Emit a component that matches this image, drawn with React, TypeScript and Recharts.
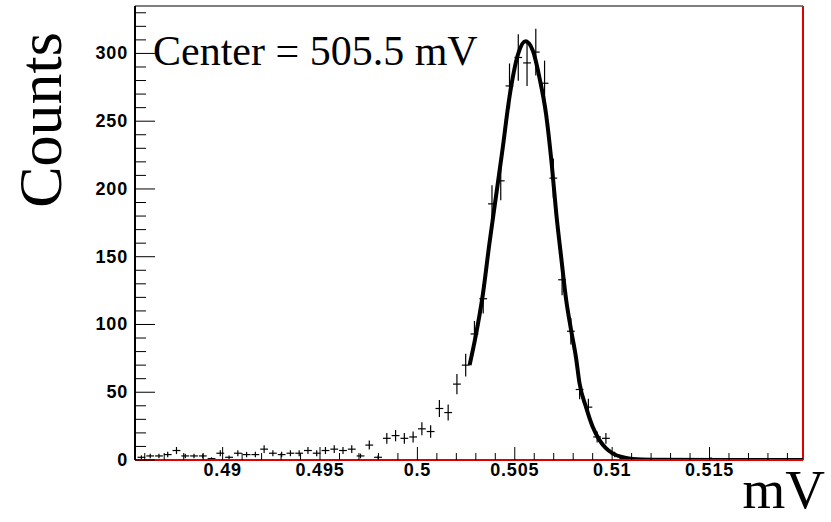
import { ComposedChart, Scatter, Line, XAxis, YAxis, ErrorBar, ReferenceLine } from "recharts";

// histogram: 76 bins, 0.45 µV wide
const BIN_FIRST = 0.48583;
const BIN_WIDTH = 0.00045;
const HALF_BAR = 0.0002;

const COUNTS = [
  2, 3, 3, 4, 7, 3, 3, 3, 1, 5,
  2, 5, 4, 4, 8, 5, 4, 5, 5, 7,
  5, 7, 8, 7, 8, 3, 11, 2, 16, 18,
  16, 17, 23, 21, 38, 35, 56, 70, 93, 119,
  189, 206, 276, 297, 293, 301, 278, 208, 133, 95,
  52, 39, 17, 16, 4, 1, 0, 0, 0, 0,
  0, 0, 0, 0, 0, 1, 0, 0, 0, 0,
  0, 0, 0, 0, 0, 0,
];

// vertical error half-heights
const ERRORS = [
  1.4, 1.7, 1.7, 2, 2.6, 1.7, 1.7, 1.7, 1, 2.2,
  1.4, 2.2, 2, 2, 2.8, 2.2, 2, 2.2, 2.2, 2.6,
  2.2, 2.6, 2.8, 2.6, 2.8, 1.7, 3.3, 1.4, 4, 4.2,
  4, 4.1, 4.8, 4.6, 6.2, 5.9, 7.5, 8.4, 9.6, 10.9,
  13.7, 14.4, 16.6, 17.2, 17.1, 17.3, 16.7, 14.4, 11.5, 9.7,
  7.2, 6.2, 4.1, 4, 2, 1, 0, 0, 0, 0,
  0, 0, 0, 0, 0, 1, 0, 0, 0, 0,
  0, 0, 0, 0, 0, 0,
];

// fit curve
const FIT_X = [
  0.50268, 0.503, 0.50336, 0.5037, 0.50405, 0.50436, 0.50473, 0.50516, 0.50555,
  0.50593, 0.50627, 0.50661, 0.5069, 0.50713, 0.50738, 0.50764, 0.50789, 0.50815,
  0.50832, 0.50866, 0.509, 0.50935, 0.50969, 0.51003, 0.51054, 0.51105, 0.512, 0.5198,
];
const FIT_Y = [
  70, 92, 122, 160, 196, 228, 268, 299, 309,
  302, 282, 255, 218, 182, 150, 118, 96, 75,
  57, 39, 24.5, 14.7, 8.6, 4.9, 2, 0.7, 0.1, 0,
];

const X_DOMAIN: [number, number] = [0.4855, 0.5198];
const Y_DOMAIN: [number, number] = [0, 335];

const X_TICKS = [
  0.486, 0.487, 0.488, 0.489, 0.49, 0.491, 0.492, 0.493, 0.494, 0.495,
  0.496, 0.497, 0.498, 0.499, 0.5, 0.501, 0.502, 0.503, 0.504, 0.505,
  0.506, 0.507, 0.508, 0.509, 0.51, 0.511, 0.512, 0.513, 0.514, 0.515,
  0.516, 0.517, 0.518, 0.519,
];
const X_MAJOR = [0.49, 0.495, 0.5, 0.505, 0.51, 0.515];
const X_MAJOR_LABELS = ["0.49", "0.495", "0.5", "0.505", "0.51", "0.515"];

const Y_TICKS = [
  0, 10, 20, 30, 40, 50, 60, 70, 80, 90, 100, 110, 120, 130, 140, 150, 160,
  170, 180, 190, 200, 210, 220, 230, 240, 250, 260, 270, 280, 290, 300, 310, 320, 330,
];
const Y_MAJOR = [0, 50, 100, 150, 200, 250, 300];

const histData = COUNTS.map((c, i) => ({
  x: BIN_FIRST + i * BIN_WIDTH,
  y: c,
  ey: ERRORS[i],
  ex: HALF_BAR,
})).filter(d => d.y > 0);

const fitData = FIT_X.map((x, i) => ({ x, y: FIT_Y[i] }));

const LABEL_FONT = "'Liberation Sans', Arial, sans-serif";
const SERIF = "'Liberation Serif', 'Times New Roman', serif";

const XTick = ({ x, y, payload }: any) => {
  const idx = X_MAJOR.findIndex(m => Math.abs(m - payload.value) < 1e-7);
  const major = idx >= 0;
  return (
    <g>
      <line x1={x} x2={x} y1={y} y2={y - (major ? 13 : 7)} stroke="#000" strokeWidth={1} />
      {major && (
        <text x={x} y={y + 16} textAnchor="middle" fontFamily={LABEL_FONT}
          fontWeight="bold" fontSize={18} letterSpacing={0.8} fill="#000">
          {X_MAJOR_LABELS[idx]}
        </text>
      )}
    </g>
  );
};

const YTick = ({ x, y, payload }: any) => {
  const major = Y_MAJOR.includes(payload.value);
  return (
    <g>
      <line x1={x} x2={x + (major ? 20 : 11)} y1={y} y2={y} stroke="#000" strokeWidth={1} />
      {major && (
        <text x={x - 7} y={y + 6} textAnchor="end" fontFamily={LABEL_FONT}
          fontWeight="bold" fontSize={18} letterSpacing={0.8} fill="#000">
          {payload.value}
        </text>
      )}
    </g>
  );
};

export default function App() {
  return (
    <div style={{ position: "absolute", left: 0, top: 0, width: 831, height: 522, background: "#fff" }}>
      <ComposedChart width={831} height={522} margin={{ top: 6, right: 28, bottom: 0, left: 0 }}>
        <XAxis type="number" dataKey="x" domain={X_DOMAIN} allowDataOverflow
          ticks={X_TICKS} interval={0} tick={<XTick />} tickLine={false}
          tickSize={0} tickMargin={0} height={62}
          axisLine={{ stroke: "#e00000", strokeWidth: 2 }} />
        <YAxis type="number" domain={Y_DOMAIN} allowDataOverflow
          ticks={Y_TICKS} interval={0} tick={<YTick />} tickLine={false}
          tickSize={0} tickMargin={0} width={135}
          axisLine={{ stroke: "#000", strokeWidth: 2 }} />
        <ReferenceLine x={X_DOMAIN[1]} stroke="#e00000" strokeWidth={2} />
        <ReferenceLine y={Y_DOMAIN[1]} stroke="#555" strokeWidth={1.5} />
        <Scatter data={histData} dataKey="y" isAnimationActive={false} shape={() => <g />}>
          <ErrorBar dataKey="ey" direction="y" width={0} stroke="#000" strokeWidth={1.2} isAnimationActive={false} />
          <ErrorBar dataKey="ex" direction="x" width={0} stroke="#000" strokeWidth={1.2} isAnimationActive={false} />
        </Scatter>
        <Line data={fitData} dataKey="y" type="monotone" stroke="#000" strokeWidth={4}
          dot={false} activeDot={false} isAnimationActive={false} />
      </ComposedChart>
      <svg width={831} height={522} style={{ position: "absolute", left: 0, top: 0, pointerEvents: "none" }}>
        <text transform="translate(61,120) rotate(-90)" textAnchor="middle"
          fontFamily={SERIF} fontSize={62} fill="#000">Counts</text>
        <text x={825} y={508} textAnchor="end" fontFamily={SERIF} fontSize={55} fill="#000">mV</text>
        <text x={153} y={65} fontFamily={SERIF} fontSize={42} fill="#000">Center = 505.5 mV</text>
      </svg>
    </div>
  );
}
